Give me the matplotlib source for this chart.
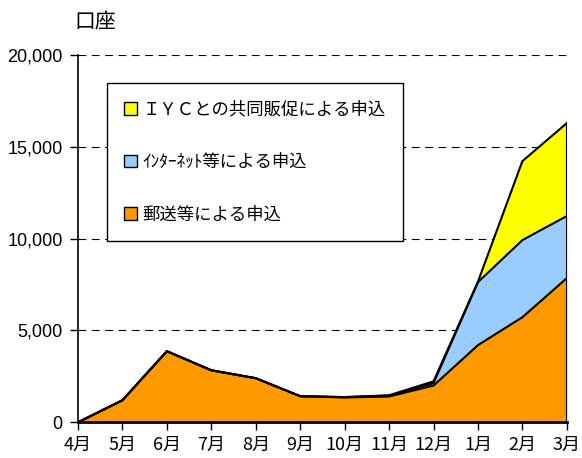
import matplotlib.pyplot as plt
import numpy as np
from matplotlib.patches import Patch

plt.rcParams['font.family'] = ['Noto Sans CJK JP', 'DejaVu Sans']

months = ["4月", "5月", "6月", "7月", "8月", "9月", "10月", "11月", "12月", "1月", "2月", "3月"]
postal = [0, 1200, 3870, 2830, 2400, 1420, 1350, 1400, 2000, 4200, 5720, 7850]
internet = [0, 0, 0, 0, 0, 0, 20, 50, 130, 3430, 4200, 3380]
iyc = [0, 0, 0, 0, 0, 0, 0, 20, 100, 30, 4300, 5060]

labels = ["ＩＹＣとの共同販促による申込", "ｲﾝﾀｰﾈｯﾄ等による申込", "郵送等による申込"]
colors = ["#FFFF00", "#99CCFF", "#FF9900"]

x = np.arange(len(months))
s1 = np.array(postal)
s2 = s1 + np.array(internet)
s3 = s2 + np.array(iyc)

fig, ax = plt.subplots(figsize=(5.82, 4.58), dpi=100)
fig.subplots_adjust(left=0.134, right=0.974, top=0.88, bottom=0.078)

ax.fill_between(x, 0, s1, color=colors[2], lw=0, zorder=2)
ax.fill_between(x, s1, s2, color=colors[1], lw=0, zorder=2)
ax.fill_between(x, s2, s3, color=colors[0], lw=0, zorder=2)
for s in (s1, s2, s3):
    ax.plot(x, s, color="black", lw=1.5, zorder=3)
ax.plot([x[-1], x[-1]], [0, s3[-1]], color="black", lw=1.5, zorder=3)

ax.set_xlim(0, len(months) - 1)
ax.set_ylim(0, 20000)
ax.set_xticks(x)
ax.set_xticklabels(months, fontsize=13)
ax.set_yticks([0, 5000, 10000, 15000, 20000])
ax.set_yticklabels(["0", "5,000", "10,000", "15,000", "20,000"], fontsize=13,
                   family=["Liberation Sans", "DejaVu Sans"])
ax.yaxis.grid(True, linestyle=(0, (7, 5)), color="black", lw=0.8)
ax.set_axisbelow(True)
ax.spines["top"].set_visible(False)
ax.spines["right"].set_visible(False)
ax.spines["left"].set_linewidth(1.2)
ax.spines["bottom"].set_linewidth(2)
ax.spines["bottom"].set_zorder(4)
ax.tick_params(axis="both", direction="out", length=6, width=1, colors="black")
ax.tick_params(axis="y", pad=5)

ax.text(-0.008, 1.06, "口座", transform=ax.transAxes, fontsize=15, ha="left", va="bottom")

handles = [Patch(facecolor=c, edgecolor="black", lw=1) for c in colors]
leg = ax.legend(handles, labels, loc="upper left", bbox_to_anchor=(0.059, 0.924),
                borderaxespad=0, fontsize=12.5, handlelength=0.75, handleheight=0.75,
                handletextpad=0.3, labelspacing=2.0, borderpad=1.0, fancybox=False,
                framealpha=1, edgecolor="black")
leg.get_frame().set_linewidth(1.0)

fig.savefig("out.png", dpi=100)
